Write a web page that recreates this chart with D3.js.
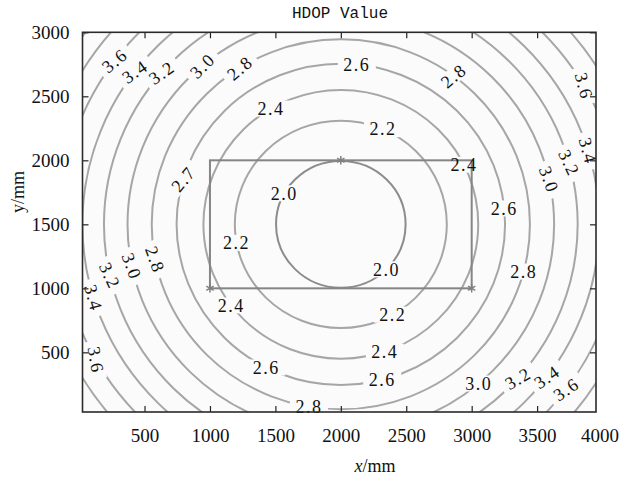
<!DOCTYPE html>
<html>
<head>
<meta charset="utf-8">
<script src="https://cdn.jsdelivr.net/npm/d3@7"></script>
<style>
  html, body { margin: 0; padding: 0; background: #fff; }
  svg { display: block; }
</style>
</head>
<body>
<svg id="chart" width="620" height="478"></svg>
<script>
// ---------- data ----------
const centerX = 2000, centerY = 1500;
const levels = [2.0, 2.2, 2.4, 2.6, 2.8, 3.0, 3.2, 3.4, 3.6, 3.8, 4.0];
const radii  = [495, 810, 1050, 1255, 1445, 1630, 1810, 1975, 2150, 2310, 2460]; // mm
const rectX = [1000, 3000], rectY = [1000, 2000];
const starX = [1000, 3000, 2000], starY = [1000, 1000, 2000];
const labelText  = ["3.6","3.4","3.2","3.0","2.8","2.4","2.7","2.0","2.2","2.6","2.8","2.2","2.4","3.6","3.4","3.2","3.0","2.6",
                    "2.8","3.0","3.2","3.4","3.6","2.4","2.6","2.8","2.0","2.8","2.2","2.4","2.6","3.0","3.2","3.4","3.6"];
const labelLevel = [3.6,3.4,3.2,3.0,2.8,2.4,2.6,2.0,2.2,2.6,2.8,2.2,2.4,3.6,3.4,3.2,3.0,2.6,
                    2.8,3.0,3.2,3.4,3.6,2.4,2.6,2.8,2.0,2.8,2.2,2.4,2.6,3.0,3.2,3.4,3.6];
const labelAngle = [143.5,142.8,139.1,130.5,122.3,120.5,163.6,150.7,190.3,84.4,53.4,66.6,26.3,30.2,16.9,15.4,12.4,5.7,
                    191,191.6,192.8,196.9,209.5,217.1,243,260.3,314.7,345.2,299.4,288.7,284.6,310.3,318.4,322.9,323.2];
const labelRot   = [-40,-35,-35,-45,-40,0,-50,0,0,0,-40,0,0,75,75,65,70,0,
                    70,70,65,75,80,0,0,0,0,0,0,0,0,0,-30,-35,-35];
const xTicks = [500, 1000, 1500, 2000, 2500, 3000, 3500, 4000];
const yTicks = [500, 1000, 1500, 2000, 2500, 3000];
const titleText = "HDOP Value";

// ---------- layout ----------
const L = 82.5, R = 596, T = 32.3, B = 412;
const x = d3.scaleLinear().domain([26, 3950]).range([L, R]);
const y = d3.scaleLinear().domain([34, 3000]).range([B, T]);

const svg = d3.select("#chart");
const defs = svg.append("defs");
defs.append("clipPath").attr("id", "plotclip")
  .append("rect").attr("x", L).attr("y", T).attr("width", R - L).attr("height", B - T);

const cx = x(centerX), cy = y(centerY);
const rxOf = r => x(centerX + r) - x(centerX);
const ryOf = r => y(centerY) - y(centerY + r);

const labels = labelText.map((t, i) => {
  const li = levels.indexOf(labelLevel[i]);
  const a = labelAngle[i] * Math.PI / 180;
  return {
    text: t, li,
    px: cx + rxOf(radii[li]) * Math.cos(a),
    py: cy - ryOf(radii[li]) * Math.sin(a),
    rot: labelRot[i]
  };
});

// masks: gaps in each contour where its labels sit
levels.forEach((lv, li) => {
  const m = defs.append("mask").attr("id", "mask" + li)
    .attr("maskUnits", "userSpaceOnUse")
    .attr("x", 0).attr("y", 0).attr("width", 620).attr("height", 478);
  m.append("rect").attr("x", 0).attr("y", 0).attr("width", 620).attr("height", 478).attr("fill", "#fff");
  labels.filter(d => d.li === li).forEach(d => {
    m.append("rect")
      .attr("x", -19).attr("y", -8).attr("width", 38).attr("height", 16)
      .attr("fill", "#000")
      .attr("transform", `translate(${d.px},${d.py}) rotate(${d.rot})`);
  });
});

// plot background
svg.append("rect").attr("x", L).attr("y", T).attr("width", R - L).attr("height", B - T)
  .attr("fill", "#fbfbfb");

// contours
const gC = svg.append("g").attr("clip-path", "url(#plotclip)");
levels.forEach((lv, li) => {
  gC.append("ellipse")
    .attr("cx", cx).attr("cy", cy)
    .attr("rx", rxOf(radii[li])).attr("ry", ryOf(radii[li]))
    .attr("fill", "none")
    .attr("stroke", li === 0 ? "#8c8c8c" : "#a6a6a6")
    .attr("stroke-width", 2)
    .attr("mask", `url(#mask${li})`);
});

// rectangle
svg.append("rect")
  .attr("x", x(rectX[0])).attr("y", y(rectY[1]))
  .attr("width", x(rectX[1]) - x(rectX[0])).attr("height", y(rectY[0]) - y(rectY[1]))
  .attr("fill", "none").attr("stroke", "#858585").attr("stroke-width", 2);

// stars
svg.selectAll(".star").data(starX).join("path")
  .attr("transform", (d, i) => `translate(${x(d)},${y(starY[i])})`)
  .attr("d", d3.symbol(d3.symbolAsterisk, 50)())
  .attr("fill", "none").attr("stroke", "#808080").attr("stroke-width", 1.5);

// contour labels
svg.append("g").selectAll("text").data(labels).join("text")
  .attr("transform", d => `translate(${d.px},${d.py}) rotate(${d.rot})`)
  .attr("text-anchor", "middle").attr("dy", "0.35em")
  .style("font-family", "'Liberation Serif', serif")
  .style("font-size", "18px")
  .style("letter-spacing", "1.5px")
  .attr("fill", "#111")
  .text(d => d.text);

// axes
const tickFont = g => g.selectAll("text")
  .style("font-family", "'Liberation Serif', serif").style("font-size", "19px").attr("fill", "#111");

const xb = svg.append("g").attr("transform", `translate(0,${B})`)
  .call(d3.axisBottom(x).tickValues(xTicks).tickSize(-6).tickPadding(12).tickFormat(d3.format("d")));
xb.call(tickFont);
xb.select(".domain").remove();
xb.selectAll(".tick line").filter(d => d >= 3950).remove();
xb.selectAll(".tick text").attr("dy", "0.95em");
xb.selectAll(".tick text").filter(d => d >= 3950).attr("dx", "-3");

const xt = svg.append("g").attr("transform", `translate(0,${T})`)
  .call(d3.axisTop(x).tickValues(xTicks.filter(d => d < 3950)).tickSize(-6).tickFormat(""));
xt.select(".domain").remove();

const yl = svg.append("g").attr("transform", `translate(${L},0)`)
  .call(d3.axisLeft(y).tickValues(yTicks).tickSize(-6).tickPadding(13).tickFormat(d3.format("d")));
yl.call(tickFont);
yl.select(".domain").remove();

const yr = svg.append("g").attr("transform", `translate(${R},0)`)
  .call(d3.axisRight(y).tickValues(yTicks).tickSize(-6).tickFormat(""));
yr.select(".domain").remove();

svg.selectAll(".tick line").attr("stroke", "#222").attr("stroke-width", 1.2);

// frame
svg.append("rect").attr("x", L).attr("y", T).attr("width", R - L).attr("height", B - T)
  .attr("fill", "none").attr("stroke", "#2a2a2a").attr("stroke-width", 1.6);

// title and axis labels
svg.append("text").attr("x", 340).attr("y", 18).attr("text-anchor", "middle")
  .style("font-family", "'Liberation Mono', monospace").style("font-size", "16px").attr("fill", "#111")
  .text(titleText);

const xLab = svg.append("text").attr("x", 375).attr("y", 472).attr("text-anchor", "middle")
  .style("font-family", "'Liberation Serif', serif").style("font-size", "18px").attr("fill", "#111");
xLab.append("tspan").style("font-style", "italic").text("x");
xLab.append("tspan").text("/mm");

svg.append("text").attr("transform", "translate(24,192) rotate(-90)").attr("text-anchor", "middle")
  .style("font-family", "'Liberation Serif', serif").style("font-size", "18px").attr("fill", "#111")
  .text("y/mm");
</script>
</body>
</html>
